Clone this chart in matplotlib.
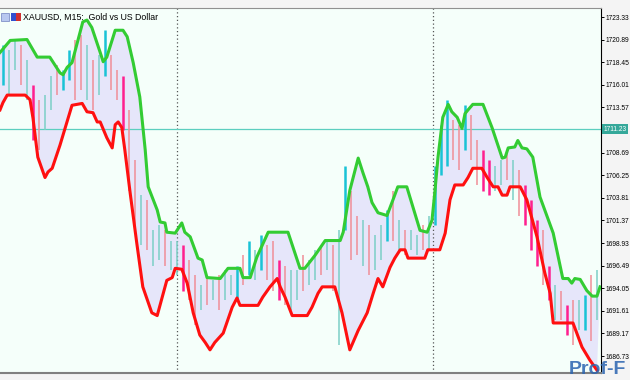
#!/usr/bin/env python3
"""
XAUUSD M15 通道图 (MetaTrader 风格)
"""

import numpy as np
import matplotlib
matplotlib.use('Agg')
import matplotlib.pyplot as plt
from matplotlib.patches import Rectangle

plt.rcParams['font.family'] = ['Liberation Sans', 'DejaVu Sans']

# ---- 数据 ----
title_text = 'XAUUSD, M15:  Gold vs US Dollar'
last_price = 1711.23
tick_vals = [1723.33, 1720.89, 1718.45, 1716.01, 1713.57, 1708.69, 1706.25,
             1703.81, 1701.37, 1698.93, 1696.49, 1694.05, 1691.61, 1689.17, 1686.73]
session_breaks = [29.0, 71.7]

# K线 (每根的最高/最低, 方向: u=涨 d=跌, 大写=高亮)
bar_high = [1720.3, 1719.8, 1720.8, 1720.3, 1718.7, 1716.0, 1714.4, 1714.9, 1717.0, 1718.1,
            1717.6, 1719.8, 1720.8, 1721.4, 1720.3, 1718.7, 1719.2, 1721.9, 1719.2, 1717.6,
            1717.0, 1713.3, 1707.9, 1704.1, 1703.6, 1700.3, 1700.9, 1700.3, 1699.2, 1699.2,
            1698.7, 1697.1, 1695.5, 1694.4, 1695.5, 1694.9, 1695.5, 1696.0, 1695.5, 1696.5,
            1697.6, 1699.2, 1698.2, 1699.8, 1698.7, 1699.2, 1697.1, 1696.5, 1696.0, 1696.0,
            1697.6, 1697.1, 1698.2, 1698.7, 1699.2, 1698.7, 1700.3, 1707.3, 1704.6, 1701.9,
            1701.4, 1700.9, 1699.8, 1700.9, 1702.5, 1704.6, 1701.4, 1700.3, 1700.3, 1699.8,
            1700.9, 1701.9, 1707.3, 1711.7, 1714.4, 1712.2, 1711.7, 1713.8, 1712.7, 1710.0,
            1709.0, 1707.9, 1707.3, 1707.9, 1709.0, 1707.9, 1706.8, 1705.2, 1703.6, 1701.4,
            1700.3, 1696.5, 1694.4, 1693.8, 1692.2, 1692.8, 1692.8, 1693.3, 1695.5, 1696.0]
bar_low = [1716.0, 1714.9, 1717.6, 1716.0, 1714.4, 1710.0, 1709.0, 1711.1, 1713.3, 1714.9,
           1715.4, 1716.5, 1714.4, 1715.4, 1714.4, 1713.3, 1714.9, 1717.0, 1715.4, 1714.4,
           1711.1, 1704.6, 1700.3, 1698.7, 1698.2, 1696.5, 1697.1, 1696.5, 1696.0, 1695.5,
           1693.8, 1692.8, 1690.1, 1691.7, 1692.2, 1692.8, 1691.7, 1692.8, 1693.3, 1692.8,
           1694.4, 1695.5, 1694.9, 1696.0, 1694.9, 1693.8, 1692.8, 1692.2, 1691.7, 1692.8,
           1693.8, 1694.4, 1694.9, 1695.5, 1696.0, 1693.8, 1687.9, 1700.3, 1697.1, 1697.6,
           1696.5, 1695.5, 1696.0, 1697.1, 1699.2, 1699.2, 1698.2, 1697.6, 1698.2, 1697.6,
           1698.2, 1698.2, 1700.9, 1706.3, 1707.3, 1707.9, 1706.8, 1709.0, 1707.9, 1705.2,
           1704.6, 1704.1, 1704.6, 1705.2, 1705.7, 1703.6, 1701.9, 1700.9, 1698.2, 1696.5,
           1694.4, 1692.8, 1690.6, 1690.6, 1689.0, 1687.9, 1689.5, 1689.5, 1688.4, 1690.6]
bar_dir = ('UuuduDduud' 'UUdduduUdd' 'Ddduduuduu' 'DddududuuU' 'dUuUddDduu'
           'duududuUdd' 'uduuUduduu' 'duUUUddUdd' 'DDuududDDD' 'dDudDduUdu')

# 上轨 (绿)
upper_x = [-0.5, 1.2, 4.0, 5.7, 7.0, 7.8, 8.3, 9.5, 10.0, 10.7, 11.5, 13.3, 14.0, 14.8,
           16.2, 16.7, 17.3, 18.7, 20.0, 20.7, 21.7, 22.8, 23.7, 24.2, 25.7, 26.2, 27.0,
           27.3, 28.7, 29.8, 30.3, 31.2, 32.5, 33.2, 34.0, 36.2, 37.5, 39.5, 40.0, 41.2,
           42.3, 44.2, 47.5, 49.5, 50.3, 52.0, 53.7, 56.2, 56.7, 57.8, 59.2, 60.0, 60.8,
           61.5, 62.5, 64.0, 65.0, 65.8, 67.3, 69.5, 70.7, 71.5, 72.0, 72.5, 73.3, 74.2,
           74.8, 75.7, 76.5, 77.0, 77.5, 78.3, 80.0, 81.5, 83.2, 83.7, 84.2, 85.3, 85.8,
           86.5, 87.3, 88.3, 89.5, 91.7, 93.3, 94.2, 94.8, 95.3, 96.2, 97.3, 98.2, 99.0, 99.5]
upper_y = [1719.5, 1720.8, 1720.9, 1719.0, 1719.0, 1719.0, 1718.5, 1717.3, 1717.1, 1717.9,
           1718.4, 1722.8, 1723.0, 1722.2, 1719.5, 1718.5, 1719.0, 1721.9, 1721.9, 1721.2,
           1718.4, 1714.7, 1709.0, 1705.0, 1702.5, 1701.2, 1701.1, 1700.1, 1700.0, 1701.1,
           1700.1, 1699.6, 1697.3, 1697.1, 1695.2, 1695.1, 1696.2, 1696.2, 1695.2, 1695.2,
           1697.4, 1700.1, 1700.1, 1696.2, 1696.2, 1697.6, 1699.2, 1699.2, 1700.1, 1704.6,
           1708.1, 1706.5, 1705.0, 1703.3, 1702.2, 1701.9, 1703.6, 1705.0, 1705.0, 1700.3,
           1700.1, 1701.4, 1704.6, 1708.2, 1712.5, 1713.9, 1713.1, 1712.5, 1711.3, 1712.9,
           1713.3, 1713.9, 1713.9, 1711.4, 1708.1, 1708.2, 1709.2, 1709.3, 1710.0, 1709.2,
           1709.1, 1708.2, 1703.9, 1700.0, 1695.1, 1695.1, 1694.6, 1695.1, 1695.0, 1693.8,
           1693.2, 1693.2, 1694.2]

# 下轨 (红)
lower_x = [-0.5, 0.0, 0.7, 3.7, 4.5, 5.0, 5.8, 7.0, 7.5, 8.2, 9.5, 11.5, 13.2, 14.0, 15.0,
           15.7, 16.2, 17.3, 18.2, 18.7, 19.2, 19.8, 20.3, 21.2, 22.3, 23.3, 24.8, 25.7,
           27.3, 28.2, 28.7, 29.8, 30.7, 31.7, 32.8, 33.7, 34.5, 35.3, 36.7, 38.2, 39.0,
           39.5, 42.5, 43.3, 44.5, 45.7, 46.2, 47.0, 48.2, 50.7, 51.5, 52.5, 53.2, 55.3,
           56.5, 57.8, 59.2, 60.7, 61.7, 62.5, 63.3, 64.5, 65.3, 66.2, 67.0, 67.5, 70.3,
           70.8, 72.8, 73.7, 74.5, 75.3, 76.7, 77.5, 78.3, 79.8, 80.7, 81.7, 82.5, 83.2,
           84.0, 84.5, 86.2, 87.3, 89.0, 90.3, 91.2, 91.7, 95.0, 96.5, 97.8, 99.0]
lower_y = [1713.3, 1714.1, 1714.9, 1714.9, 1714.4, 1712.4, 1708.2, 1706.0, 1706.6, 1707.0,
           1709.5, 1713.8, 1714.0, 1713.1, 1713.0, 1712.0, 1712.0, 1710.3, 1709.2, 1711.7,
           1712.0, 1711.4, 1709.0, 1704.3, 1698.9, 1694.2, 1691.4, 1691.1, 1694.9, 1695.2,
           1696.2, 1696.1, 1694.6, 1691.4, 1689.0, 1688.2, 1687.4, 1688.2, 1689.2, 1692.0,
           1693.0, 1692.2, 1692.2, 1693.1, 1694.2, 1695.1, 1694.2, 1693.1, 1691.1, 1691.1,
           1692.0, 1693.5, 1694.2, 1694.2, 1691.4, 1687.4, 1689.5, 1691.4, 1693.5, 1695.1,
           1694.2, 1696.3, 1697.3, 1698.2, 1698.2, 1697.3, 1697.3, 1698.2, 1698.2, 1700.0,
           1703.6, 1705.2, 1705.2, 1706.0, 1707.0, 1707.0, 1706.0, 1705.0, 1705.0, 1704.1,
           1704.1, 1705.0, 1705.0, 1703.6, 1699.6, 1695.7, 1693.5, 1690.3, 1690.3, 1687.7,
           1686.3, 1685.2]

# ---- 样式 ----
BG = '#f5fffa'
UP_C = {'u': '#7ccfc6', 'U': '#19c3d6'}
DN_C = {'d': '#f08e98', 'D': '#ff1f8f'}


def main():
    fig = plt.figure(figsize=(6.3, 3.8), dpi=100)
    fig.patch.set_facecolor('#f4f4f4')
    ax = fig.add_axes([0.0, 0.0184, 0.954, 0.9605])
    ax.set_facecolor(BG)

    # 通道填充
    poly_x = np.concatenate([upper_x, lower_x[::-1]])
    poly_y = np.concatenate([upper_y, lower_y[::-1]])
    ax.fill(poly_x, poly_y, color='#e6e6fa', lw=0, zorder=1)

    # 分隔线
    for sx in session_breaks:
        ax.axvline(sx, color='#555555', lw=0.9, ls=(0, (1, 2)), zorder=2)

    # K线
    bar_x = np.arange(len(bar_high))
    for x, h, l, d in zip(bar_x, bar_high, bar_low, bar_dir):
        c = UP_C.get(d) or DN_C.get(d)
        lw = 1.8 if d.isupper() else 1.1
        ax.vlines(x, l, h, colors=c, linewidth=lw, zorder=3)

    # 当前价格线
    ax.axhline(last_price, color='#5ccfbf', lw=0.9, zorder=2)

    ax.plot(upper_x, upper_y, color='#33cc33', lw=2.2, zorder=4,
            solid_joinstyle='round')
    ax.plot(lower_x, lower_y, color='#ff1010', lw=2.2, zorder=4,
            solid_joinstyle='round')

    ax.set_xlim(-0.5, 99.67)
    ax.set_ylim(1684.9, 1724.3)

    ax.set_xticks([])
    ax.yaxis.tick_right()
    ax.set_yticks(tick_vals)
    ax.set_yticklabels([f'{v:.2f}' for v in tick_vals], fontsize=4.8)
    ax.tick_params(axis='y', direction='out', length=2.5, width=0.7, pad=1.0,
                   colors='black')

    ax.spines['left'].set_visible(False)
    ax.spines['right'].set_color('black')
    ax.spines['right'].set_linewidth(0.8)
    ax.spines['top'].set_color('#909090')
    ax.spines['bottom'].set_color('#808080')
    ax.spines['bottom'].set_linewidth(1.5)

    # 当前价格标签
    ax.text(1.004, last_price, f'{last_price:.2f}', transform=ax.get_yaxis_transform(),
            fontsize=4.8, color='white', va='center', ha='left',
            bbox=dict(boxstyle='square,pad=0.2', fc='#35a89a', ec='none'))

    # 标题
    fig.add_artist(Rectangle((0.002, 0.944), 0.012, 0.022, transform=fig.transFigure,
                             fc='#b8c8f0', ec='#7080c0', lw=0.5))
    fig.add_artist(Rectangle((0.017, 0.944), 0.008, 0.022, transform=fig.transFigure,
                             fc='#3050d0', ec='none'))
    fig.add_artist(Rectangle((0.026, 0.944), 0.008, 0.022, transform=fig.transFigure,
                             fc='#d03030', ec='none'))
    fig.text(0.037, 0.955, title_text, fontsize=6.3, va='center', ha='left')

    # 水印
    fig.text(0.903, 0.004, 'Prof-F', fontsize=14, fontweight='bold',
             color='#2a64b0', alpha=0.85, ha='left', va='bottom')

    fig.savefig('out.png', dpi=100, facecolor=fig.get_facecolor())
    print('已生成: out.png')


if __name__ == '__main__':
    main()
